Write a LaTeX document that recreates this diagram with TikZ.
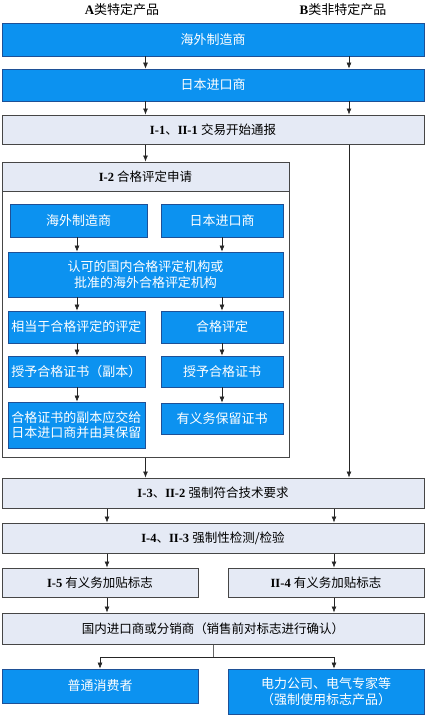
\documentclass[tikz,border=0pt]{standalone}
\usepackage{fontspec}
\setmainfont{Liberation Serif}
\newfontfamily\cjk{Noto Sans CJK SC}
\usetikzlibrary{arrows.meta}
\definecolor{bfill}{RGB}{12,146,240}
\definecolor{bdraw}{RGB}{30,80,150}
\definecolor{gfill}{RGB}{229,234,245}
\definecolor{gdraw}{RGB}{70,70,70}
\newcommand{\mkbox}[7]{\node[#1, minimum width={(#5)-(#3)}, minimum height={(#6)-(#4)}] (#2) at ({((#3)+(#5))/2},{((#4)+(#6))/2}) {#7};}
\begin{document}
\begin{tikzpicture}[x=1pt,y=-1pt,
  bluebox/.style={draw=bdraw, fill=bfill, line width=0.8pt, text=white, font=\cjk\fontsize{13}{15.5}\selectfont, align=center, inner sep=0pt},
  graybox/.style={draw=gdraw, fill=gfill, line width=1pt, font=\fontsize{12.5}{15}\selectfont, align=center, inner sep=0pt},
  grpbox/.style={draw=gdraw, fill=white, line width=1pt, inner sep=0pt},
  head/.style={font=\fontsize{13}{15}\selectfont, inner sep=0pt},
  arr/.style={-{Latex[length=6pt,width=5pt]}, line width=0.6pt, draw=black!85},
  ln/.style={line width=0.6pt, draw=black!60}
]
\useasboundingbox (0,0) rectangle (426,716);
% column coordinates
\coordinate (xa) at (145.5,0);
\coordinate (xb) at (349,0);
\coordinate (xl) at (77,0);
\coordinate (xr) at (222,0);
\coordinate (xc) at (107,0);
\coordinate (xd) at (334,0);
\coordinate (xe) at (100,0);
\coordinate (sp) at (213,657);
% headers
\node[head] (ha) at (122,10) {\textbf{A}{\cjk 类特定产品}};
\node[head] (hb) at (343,10) {\textbf{B}{\cjk 类非特定产品}};
% top boxes
\mkbox{bluebox}{m1}{2}{23}{424}{56}{海外制造商}
\mkbox{bluebox}{m2}{2}{69}{424}{101}{日本进口商}
\mkbox{graybox}{s1}{2}{115}{424}{144}{\textbf{I-1}{\cjk 、}\textbf{II-1} {\cjk 交易开始通报}}
% group I-2
\mkbox{grpbox}{grp}{2}{162}{289}{457}{}
\mkbox{graybox}{grpt}{2}{162}{289}{191}{\textbf{I-2} {\cjk 合格评定申请}}
\mkbox{bluebox}{g1}{10}{204}{147}{237}{海外制造商}
\mkbox{bluebox}{g2}{161}{204}{283}{237}{日本进口商}
\mkbox{bluebox}{g3}{8}{252}{283}{297}{认可的国内合格评定机构或\\批准的海外合格评定机构}
\mkbox{bluebox}{g4}{8}{311}{145}{343}{相当于合格评定的评定}
\mkbox{bluebox}{g5}{161}{311}{283}{343}{合格评定}
\mkbox{bluebox}{g6}{8}{356}{145}{387}{授予合格证书（副本）}
\mkbox{bluebox}{g7}{161}{356}{283}{387}{授予合格证书}
\mkbox{bluebox}{g8}{8}{402}{145}{448}{合格证书的副本应交给\\日本进口商并由其保留}
\mkbox{bluebox}{g9}{161}{403}{283}{434}{有义务保留证书}
% lower boxes
\mkbox{graybox}{s2}{2}{478}{424}{508}{\textbf{I-3}{\cjk 、}\textbf{II-2} {\cjk 强制符合技术要求}}
\mkbox{graybox}{s3}{2}{523}{424}{553}{\textbf{I-4}{\cjk 、}\textbf{II-3} {\cjk 强制性检测/检验}}
\mkbox{graybox}{s4}{2}{568}{198}{597}{\textbf{I-5} {\cjk 有义务加贴标志}}
\mkbox{graybox}{s5}{228}{568}{424}{597}{\textbf{II-4} {\cjk 有义务加贴标志}}
\mkbox{graybox}{s6}{2}{613}{424}{644}{\cjk 国内进口商或分销商（销售前对标志进行确认）}
\mkbox{bluebox}{c1}{2}{669}{198}{703}{普通消费者}
\mkbox{bluebox}{c2}{228}{669}{424}{714}{电力公司、电气专家等\\（强制使用标志产品）}
% connectors
\draw[arr] (m1.south -| xa) -- (m2.north -| xa);
\draw[arr] (m1.south -| xb) -- (m2.north -| xb);
\draw[arr] (m2.south -| xa) -- (s1.north -| xa);
\draw[arr] (m2.south -| xb) -- (s1.north -| xb);
\draw[arr] (s1.south -| xa) -- (grp.north -| xa);
\draw[arr] (s1.south -| xb) -- (s2.north -| xb);
\draw[arr] (g1.south -| xl) -- (g3.north -| xl);
\draw[arr] (g2.south -| xr) -- (g3.north -| xr);
\draw[arr] (g3.south -| xl) -- (g4.north -| xl);
\draw[arr] (g3.south -| xr) -- (g5.north -| xr);
\draw[arr] (g4.south -| xl) -- (g6.north -| xl);
\draw[arr] (g5.south -| xr) -- (g7.north -| xr);
\draw[arr] (g6.south -| xl) -- (g8.north -| xl);
\draw[arr] (g7.south -| xr) -- (g9.north -| xr);
\draw[arr] (grp.south -| xa) -- (s2.north -| xa);
\draw[arr] (s2.south -| xc) -- (s3.north -| xc);
\draw[arr] (s2.south -| xd) -- (s3.north -| xd);
\draw[arr] (s3.south -| xc) -- (s4.north -| xc);
\draw[arr] (s3.south -| xd) -- (s5.north -| xd);
\draw[arr] (s4.south -| xc) -- (s6.north -| xc);
\draw[arr] (s5.south -| xd) -- (s6.north -| xd);
\draw[ln] (s6.south -| sp) -- (sp);
\draw[arr] (sp) -| (c1.north -| xe);
\draw[arr] (sp) -| (c2.north -| xd);
\end{tikzpicture}
\end{document}
